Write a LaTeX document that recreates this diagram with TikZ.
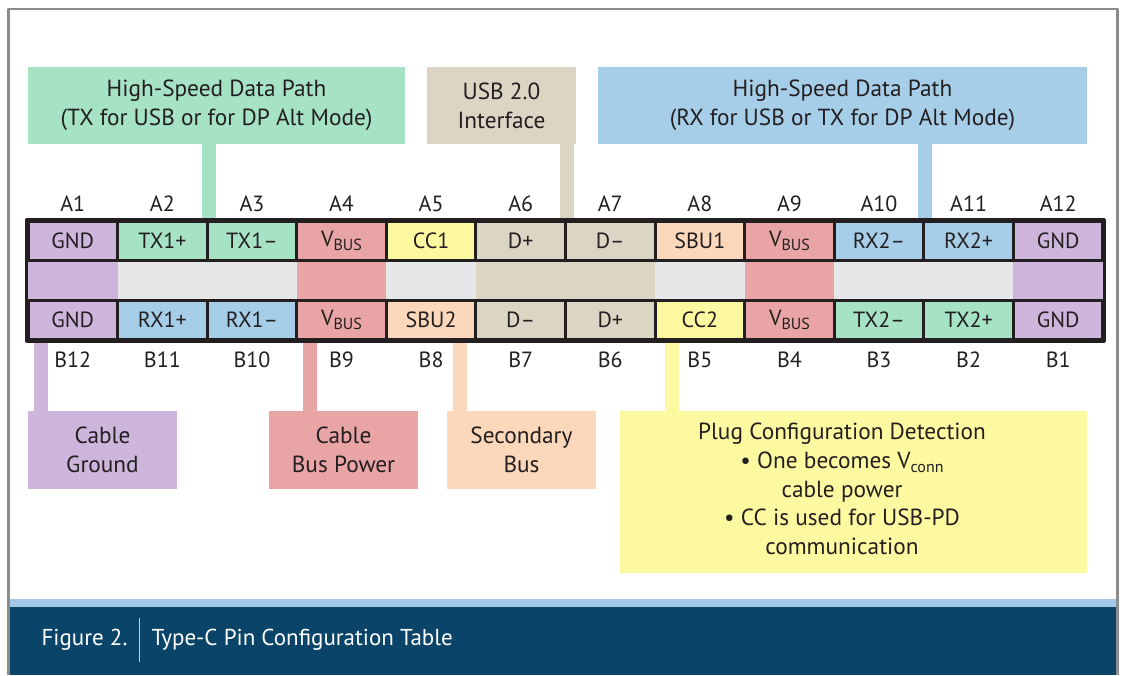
\documentclass[tikz,border=0pt]{standalone}
\usepackage{fontspec}
\setmainfont{PT Sans}
\definecolor{cgnd}{RGB}{205,181,220}
\definecolor{chs}{RGB}{166,227,197}
\definecolor{cpwr}{RGB}{233,165,165}
\definecolor{ccc}{RGB}{253,249,160}
\definecolor{cusb}{RGB}{220,213,195}
\definecolor{csbu}{RGB}{251,216,187}
\definecolor{crx}{RGB}{167,206,233}
\definecolor{cmid}{RGB}{230,231,232}
\definecolor{cink}{RGB}{35,31,32}
\definecolor{cnavy}{RGB}{10,68,104}
\definecolor{cstrip}{RGB}{163,200,232}
\definecolor{cframe}{RGB}{140,140,140}
\newcommand{\lowsub}[1]{\raisebox{-0.35ex}{\fontsize{16}{16}\selectfont #1}}
\tikzset{
  pin/.style={draw=cink, line width=3pt, minimum width=89.58pt, minimum height=39.5pt, inner sep=0pt},
  lbl/.style={inner sep=0pt, align=center, font=\fontsize{23.3}{28.7}\selectfont},
  stem/.style={line width=14pt}
}
\begin{document}
\begin{tikzpicture}[x=1pt, y=-1pt, font=\fontsize{22}{26}\selectfont, text=cink, line join=round]
  \useasboundingbox (0,0) rectangle (1124,675);
  % frame and caption band
  \draw[cframe, line width=2.5pt] (8.5,675) -- (8.5,9) -- (1117.5,9) -- (1117.5,675);
  \fill[cstrip] (9.75,599) rectangle (1116.25,607);
  \fill[cnavy] (9.75,607) rectangle (1116.25,675);
  \node[anchor=west, text=white, font=\fontsize{23}{26}\selectfont] (fignum) at (38,640) {Figure 2.};
  \node[anchor=west, text=white, font=\fontsize{23}{26}\selectfont] (figtitle) at (148,640) {Type-C Pin Configuration Table};
  \path (fignum.east) -- (figtitle.west) coordinate[midway] (sep);
  \draw[white!75!cnavy, line width=1.5pt] ([yshift=22pt]sep) -- ([yshift=-22pt]sep);

  % label boxes
  \node[lbl, fill=chs, minimum width=377, minimum height=77] (hstx) at (216.5,105.5)
    {High-Speed Data Path\\(TX for USB or for DP Alt Mode)};
  \node[lbl, fill=cusb, minimum width=149, minimum height=77] (usb) at (501.5,105.5)
    {USB 2.0\\Interface};
  \node[lbl, fill=crx, minimum width=489, minimum height=77] (hsrx) at (842.5,105.5)
    {High-Speed Data Path\\(RX for USB or TX for DP Alt Mode)};
  \node[lbl, fill=cgnd, minimum width=149, minimum height=78] (cblgnd) at (102.5,450)
    {Cable\\Ground};
  \node[lbl, fill=cpwr, minimum width=149, minimum height=78] (cblpwr) at (343.5,450)
    {Cable\\Bus Power};
  \node[lbl, fill=csbu, minimum width=149, minimum height=78] (secbus) at (521.5,450)
    {Secondary\\Bus};
  \node[lbl, fill=ccc, minimum width=467, minimum height=162] (plug) at (853.5,492) {};
  \node[lbl] (plugtxt) at (842,489)
    {Plug Configuration Detection\\\textbullet\ One becomes V\lowsub{conn}\\cable power\\\textbullet\ CC is used for USB-PD\\communication};

  % middle row
  \fill[cmid] (28,260.5) rectangle (1103,300);
  \fill[cgnd] (28,260.5) rectangle (117.58,300);
  \fill[cpwr] (296.75,260.5) rectangle (386.33,300);
  \fill[cusb] (475.92,260.5) rectangle (655.08,300);
  \fill[cpwr] (744.67,260.5) rectangle (834.25,300);
  \fill[cgnd] (1013.42,260.5) rectangle (1103,300);

  % pins
  \foreach \i/\t/\c in {1/GND/cgnd, 2/TX1+/chs, 3/TX1–/chs, 4/V\lowsub{BUS}/cpwr,
    5/CC1/ccc, 6/D+/cusb, 7/D–/cusb, 8/SBU1/csbu, 9/V\lowsub{BUS}/cpwr,
    10/RX2–/crx, 11/RX2+/crx, 12/GND/cgnd}
  {
    \node[pin, fill=\c] (A\i) at ({28+(\i-0.5)*89.58}, 240.75) {\t};
    \node (la\i) at ({28+(\i-0.5)*89.58}, 204) {A\i};
  }
  \foreach \i/\t/\c [count=\k] in {12/GND/cgnd, 11/RX1+/crx, 10/RX1–/crx, 9/V\lowsub{BUS}/cpwr,
    8/SBU2/csbu, 7/D–/cusb, 6/D+/cusb, 5/CC2/ccc, 4/V\lowsub{BUS}/cpwr,
    3/TX2–/chs, 2/TX2+/chs, 1/GND/cgnd}
  {
    \node[pin, fill=\c] (B\i) at ({28+(\k-0.5)*89.58}, 319.75) {\t};
    \node (lb\i) at ({28+(\k-0.5)*89.58}, 360) {B\i};
  }

  % stems
  \draw[stem, chs] (hstx.south -| A2.north east) -- (A2.north east);
  \draw[stem, cusb] (usb.south -| A6.north east) -- (A6.north east);
  \draw[stem, crx] (hsrx.south -| A10.north east) -- (A10.north east);
  \draw[stem, cgnd] ([xshift=14pt]B12.south west) coordinate (s1) -- (s1 |- cblgnd.north);
  \draw[stem, cpwr] ([xshift=15pt]B9.south west) coordinate (s2) -- (s2 |- cblpwr.north);
  \draw[stem, csbu] ([xshift=75pt]B8.south west) coordinate (s3) -- (s3 |- secbus.north);
  \draw[stem, ccc] ([xshift=18pt]B5.south west) coordinate (s4) -- (s4 |- plug.north);

  \draw[cink, line width=3pt] (A1.north west) rectangle (B1.south east);
\end{tikzpicture}
\end{document}
